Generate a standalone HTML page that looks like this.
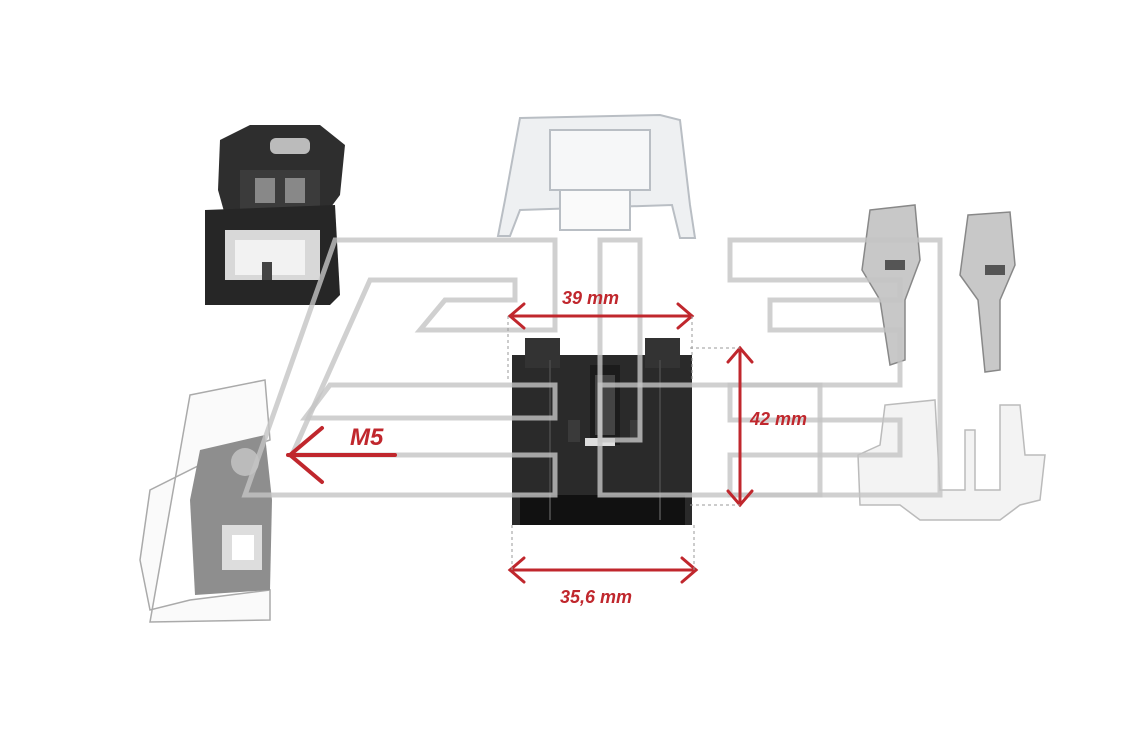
<!DOCTYPE html>
<html><head><meta charset="utf-8"><style>
html,body{margin:0;padding:0;background:#fff;}
svg{display:block}
text{font-family:"Liberation Sans",sans-serif;font-weight:bold;font-style:italic;fill:#c0272d}
</style></head><body>
<svg width="1146" height="736" viewBox="0 0 1146 736" xmlns="http://www.w3.org/2000/svg">
<rect width="1146" height="736" fill="#fff"/>
<!-- top-left dark connector -->
<g>
 <path d="M220 140 L250 125 L320 125 L345 145 L340 195 L325 215 L225 215 L218 190 Z" fill="#2e2e2e"/>
 <rect x="270" y="138" width="40" height="16" rx="6" fill="#bbb"/>
 <rect x="240" y="170" width="80" height="45" fill="#3b3b3b"/>
 <rect x="255" y="178" width="20" height="25" fill="#888"/>
 <rect x="285" y="178" width="20" height="25" fill="#888"/>
 <path d="M205 210 L335 205 L340 295 L330 305 L205 305 Z" fill="#262626"/>
 <rect x="225" y="230" width="95" height="50" fill="#d8d8d8"/>
 <rect x="235" y="240" width="70" height="35" fill="#f2f2f2"/>
 <rect x="262" y="262" width="10" height="18" fill="#444"/>
</g>
<!-- clear cover -->
<g fill="#eef0f2" stroke="#b9bec4" stroke-width="2">
 <path d="M520 118 L660 115 L680 120 L690 205 L695 238 L680 238 L672 205 L520 210 L510 236 L498 236 L505 200 Z"/>
 <rect x="550" y="130" width="100" height="60" fill="#f6f7f8"/>
 <rect x="560" y="190" width="70" height="40" fill="#fafafa"/>
</g>
<!-- fuse holder -->
<g>
 <rect x="512" y="355" width="180" height="170" fill="#2a2a2a"/>
 <rect x="525" y="338" width="35" height="30" fill="#333"/>
 <rect x="645" y="338" width="35" height="30" fill="#333"/>
 <rect x="590" y="365" width="30" height="80" fill="#1c1c1c"/>
 <rect x="595" y="375" width="20" height="60" fill="#444"/>
 <rect x="585" y="438" width="30" height="8" fill="#ddd"/>
 <rect x="568" y="420" width="12" height="22" fill="#3a3a3a"/>
 <rect x="630" y="420" width="12" height="22" fill="#3a3a3a"/>
 <rect x="520" y="495" width="165" height="30" fill="#111"/>
 <line x1="550" y1="360" x2="550" y2="520" stroke="#444" stroke-width="2"/>
 <line x1="660" y1="360" x2="660" y2="520" stroke="#444" stroke-width="2"/>
</g>
<!-- bracket bottom-left -->
<g stroke="#aaa" stroke-width="1.5" fill="#fafafa">
 <path d="M190 395 L265 380 L270 440 L210 460 L150 490 L140 560 L150 610 L190 600 L270 590 L270 620 L150 622 Z"/>
</g>
<path d="M200 450 L265 435 L272 500 L270 590 L195 595 L190 500 Z" fill="#8e8e8e"/>
<circle cx="245" cy="462" r="14" fill="#bbb"/>
<rect x="222" y="525" width="40" height="45" fill="#ddd"/>
<rect x="232" y="535" width="22" height="25" fill="#fff"/>
<!-- terminals -->
<g fill="#c8c8c8" stroke="#888" stroke-width="1.5">
 <path d="M870 210 L915 205 L920 260 L905 300 L905 360 L890 365 L880 300 L862 270 Z"/>
 <path d="M968 215 L1010 212 L1015 265 L1000 300 L1000 370 L985 372 L978 300 L960 275 Z"/>
</g>
<rect x="885" y="260" width="20" height="10" fill="#555"/>
<rect x="985" y="265" width="20" height="10" fill="#555"/>
<!-- white clip -->
<g fill="#f3f3f3" stroke="#bbb" stroke-width="1.5">
 <path d="M858 455 L880 445 L885 405 L935 400 L940 490 L965 490 L965 430 L975 430 L975 490 L1000 490 L1000 405 L1020 405 L1025 455 L1045 455 L1040 500 L1020 505 L1000 520 L920 520 L900 505 L860 505 Z"/>
</g>
<!-- watermark on top -->
<g fill="none" stroke="#c4c4c4" stroke-width="5" stroke-opacity="0.8">
 <path d="M335 240 L555 240 L555 330 L420 330 L445 300 L515 300 L515 280 L370 280 L292 455 L555 455 L555 495 L245 495 Z"/>
 <path d="M330 385 L555 385 L555 418 L305 418 Z"/>
 <path d="M600 240 L640 240 L640 440 L600 440 Z"/>
 <path d="M730 240 L940 240 L940 495 L730 495 L730 455 L900 455 L900 420 L730 420 L730 385 L900 385 L900 330 L770 330 L770 300 L900 300 L900 280 L730 280 Z"/>
 <path d="M600 385 L820 385 L820 495 L600 495 Z"/>
</g>
<!-- dimensions -->
<g stroke="#c0272d" stroke-width="3" fill="none" stroke-linecap="round">
 <line x1="510" y1="316" x2="692" y2="316"/>
 <path d="M524 304 L510 316 L524 328"/>
 <path d="M678 304 L692 316 L678 328"/>
 <line x1="510" y1="570" x2="696" y2="570"/>
 <path d="M524 558 L510 570 L524 582"/>
 <path d="M682 558 L696 570 L682 582"/>
 <line x1="740" y1="348" x2="740" y2="505"/>
 <path d="M728 362 L740 348 L752 362"/>
 <path d="M728 491 L740 505 L752 491"/>
 <line x1="288" y1="455" x2="395" y2="455" stroke-width="4"/>
 <path d="M322 428 L290 455 L322 482" stroke-width="4"/>
</g>
<g stroke="#999" stroke-width="1" stroke-dasharray="3,3" fill="none">
 <line x1="690" y1="348" x2="740" y2="348"/><line x1="690" y1="505" x2="740" y2="505"/>
 <line x1="512" y1="525" x2="512" y2="570"/><line x1="694" y1="525" x2="694" y2="570"/>
 <line x1="508" y1="316" x2="508" y2="380"/><line x1="692" y1="316" x2="692" y2="380"/>
</g>
<text x="562" y="304" font-size="18">39 mm</text>
<text x="750" y="425" font-size="18">42 mm</text>
<text x="560" y="603" font-size="18">35,6 mm</text>
<text x="350" y="445" font-size="24">M5</text>
</svg>
</body></html>
